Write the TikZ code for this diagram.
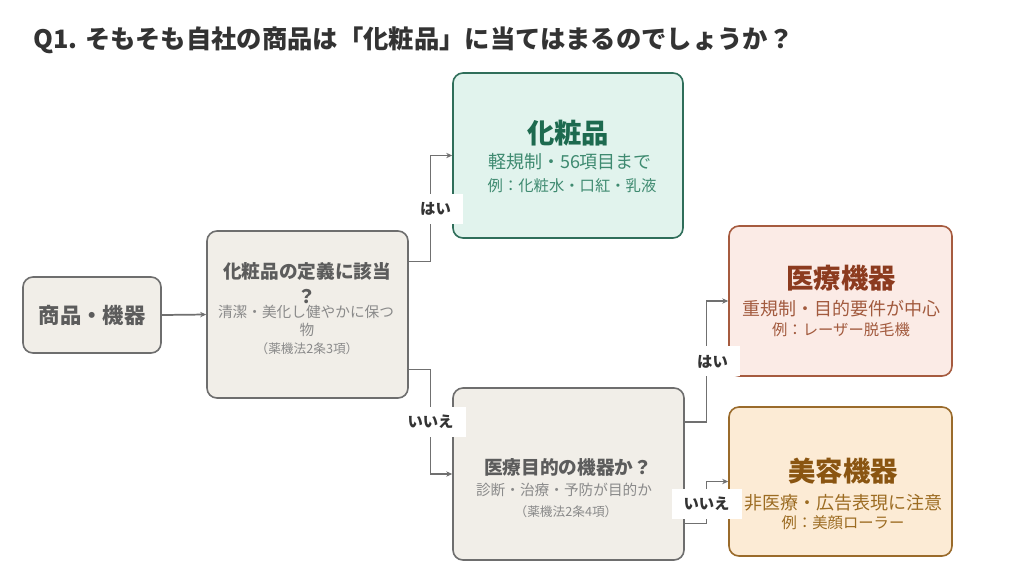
\documentclass[tikz,border=0pt]{standalone}
\usepackage{fontspec}
\setmainfont{Noto Sans CJK JP}
\usetikzlibrary{calc,arrows.meta}
\definecolor{nfill}{HTML}{F1EEE8}
\definecolor{nline}{HTML}{6E6E6E}
\definecolor{ntitle}{HTML}{5C5C5C}
\definecolor{nsub}{HTML}{8A8A8A}
\definecolor{gfill}{HTML}{E1F3ED}
\definecolor{gline}{HTML}{2F6E5A}
\definecolor{gtitle}{HTML}{1D6A4F}
\definecolor{gsub}{HTML}{3E8A70}
\definecolor{rfill}{HTML}{FBEBE6}
\definecolor{rline}{HTML}{A65B3F}
\definecolor{rtitle}{HTML}{8C3B1F}
\definecolor{rsub}{HTML}{A25A3E}
\definecolor{ofill}{HTML}{FCEBD5}
\definecolor{oline}{HTML}{9A6B2B}
\definecolor{otitle}{HTML}{8A5511}
\definecolor{osub}{HTML}{9C6C22}
\definecolor{conncol}{HTML}{707070}
\definecolor{headcol}{HTML}{333333}
\tikzset{
  boxbase/.style={draw, rounded corners=7.5pt, line width=1.2pt, inner sep=0pt},
  nbox/.style={boxbase, draw=nline, fill=nfill},
  gbox/.style={boxbase, draw=gline, fill=gfill},
  rbox/.style={boxbase, draw=rline, fill=rfill},
  obox/.style={boxbase, draw=oline, fill=ofill},
  txt/.style={inner sep=0pt, anchor=center},
  bigtitle/.style={txt, font=\fontsize{20.5}{24}\selectfont\bfseries},
  bigsub/.style={txt, font=\fontsize{13.5}{16}\selectfont},
  bigex/.style={txt, font=\fontsize{11.5}{14}\selectfont},
  qtitle/.style={txt, font=\fontsize{14}{17}\selectfont\bfseries, text=ntitle},
  qsub/.style={txt, font=\fontsize{11}{13}\selectfont, text=nsub},
  qref/.style={txt, font=\fontsize{9.5}{12}\selectfont, text=nsub},
  conn/.style={draw=conncol, line width=1.3pt, -{Stealth[length=4.5pt,width=4pt]}},
  lbl/.style={fill=white, text=headcol, font=\fontsize{11.5}{14}\selectfont\bfseries, inner xsep=9pt, minimum height=22.5pt, anchor=center},
}
\begin{document}
\begin{tikzpicture}[x=0.75pt,y=-0.75pt]
\useasboundingbox[fill=white] (0,0) rectangle (1024,576);
% heading
\node[txt, anchor=west, text=headcol, font=\fontsize{19}{23}\selectfont\bfseries] (head) at (33,40) {Q1. そもそも自社の商品は「化粧品」に当てはまるのでしょうか？};
% boxes
\node[nbox, minimum width=103.5pt, minimum height=57pt] (n1) at (92,315) {};
\node[nbox, minimum width=150.75pt, minimum height=125.25pt] (n2) at (307.5,314.5) {};
\node[gbox, minimum width=172.5pt, minimum height=123.75pt] (n3) at (568,155.5) {};
\node[nbox, minimum width=173.25pt, minimum height=129pt] (n4) at (568.5,474) {};
\node[rbox, minimum width=167.25pt, minimum height=112.5pt] (n5) at (840.5,301) {};
\node[obox, minimum width=167.25pt, minimum height=111.75pt] (n6) at (840.5,481.5) {};
% texts
\node[txt, font=\fontsize{16}{19}\selectfont\bfseries, text=ntitle] (n1t) at (92,315) {商品・機器};
\node[qtitle] (n2a) at (307,271) {化粧品の定義に該当};
\node[qtitle] (n2b) at (307,296) {\vphantom{化}？};
\node[qsub] (n2c) at (306,312) {清潔・美化し健やかに保つ};
\node[qsub] (n2d) at (307,330) {物};
\node[qref] (n2e) at (307,349) {（薬機法2条3項）};
\node[bigtitle, text=gtitle] (n3a) at (568,133) {化粧品};
\node[bigsub, text=gsub] (n3b) at (570,162) {軽規制・56項目まで};
\node[bigex, text=gsub] (n3c) at (572,186) {例：化粧水・口紅・乳液};
\node[qtitle] (n4a) at (568,467) {医療目的の機器か？};
\node[qsub] (n4b) at (564,490) {診断・治療・予防が目的か};
\node[qref] (n4c) at (566,512) {（薬機法2条4項）};
\node[bigtitle, text=rtitle] (n5a) at (841,278) {医療機器};
\node[bigsub, text=rsub] (n5b) at (841,309) {重規制・目的要件が中心};
\node[bigex, text=rsub] (n5c) at (841,330) {例：レーザー脱毛機};
\node[bigtitle, text=otitle] (n6a) at (843,471) {美容機器};
\node[bigsub, text=osub] (n6b) at (843,503) {非医療・広告表現に注意};
\node[bigex, text=osub] (n6c) at (843,523) {例：美顔ローラー};
% connectors
\draw[conn] (n1.east) -- (n2.west);
\coordinate (a1) at ($(n2.north east)!0.186!(n2.south east)$);
\coordinate (a2) at ($(n2.north east)!0.826!(n2.south east)$);
\coordinate (b1) at ($(n4.north east)!0.2!(n4.south east)$);
\coordinate (b2) at ($(n4.north east)!0.785!(n4.south east)$);
\coordinate (m1) at ($(a1)!0.5!(n3.west)$);
\coordinate (m2) at ($(a2)!0.5!(n4.west)$);
\coordinate (m3) at ($(b1)!0.5!(n5.west)$);
\coordinate (m4) at ($(b2)!0.5!(n6.west)$);
\draw[conn] (a1) -| (m1) |- (n3.west);
\draw[conn] (a2) -| (m2) |- (n4.west);
\draw[conn] (b1) -| (m3) |- (n5.west);
\draw[conn] (b2) -| (m4) |- (n6.west);
% labels
\node[lbl] (l1) at ($(m1)+(5,0)$) {はい};
\node[lbl] (l2) at (m2) {いいえ};
\node[lbl] (l3) at ($(m3)+(6,0)$) {はい};
\node[lbl] (l4) at ($(m4)+(0,1)$) {いいえ};
\end{tikzpicture}
\end{document}
